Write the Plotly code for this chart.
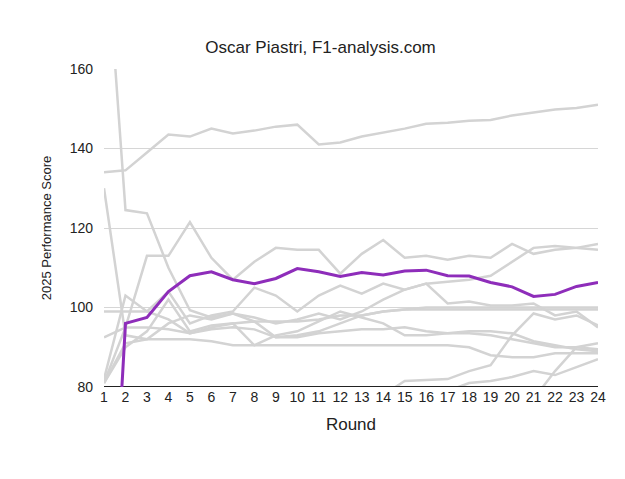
import plotly.graph_objects as go

rounds = list(range(1, 25))

piastri = [0, 96, 97.5, 104, 108, 109, 107, 106, 107.3, 109.8, 109, 107.8, 108.8, 108.2,
           109.2, 109.4, 108, 107.9, 106.3, 105.2, 102.8, 103.3, 105.3, 106.3]

others = [
    [134, 134.5, 139, 143.5, 143, 145, 143.8, 144.5, 145.5, 146, 141, 141.5, 143, 144, 145,
     146.2, 146.5, 147, 147.2, 148.3, 149, 149.8, 150.2, 151],
    [200, 124.5, 123.7, 110, 99.3, 97.5, 98.5, 96.5, 96.5, 96.5, 97, 98, 98, 99, 99.5,
     99.5, 99.5, 99.5, 99.5, 99.5, 99.5, 99.5, 99.5, 99.5],
    [130, 93, 92, 92, 92, 91.5, 90.5, 90.5, 90.5, 90.5, 90.5, 90.5, 90.5, 90.5, 90.5,
     90.5, 90.5, 90, 88, 87.5, 87.5, 88.5, 88.5, 88.5],
    [82, 103, 99, 97, 93.5, 95, 96, 96.5, 92.5, 93, 94, 96, 98, 99, 99.5,
     100, 100, 100, 100, 100, 100, 100, 100, 100],
    [81, 95, 113, 113, 121.5, 112.5, 107, 111.5, 115, 114.5, 114.5, 108.5, 113.5, 117, 112.5,
     113, 112, 113, 112.5, 116, 113.5, 114.5, 115, 116],
    [99, 99, 99, 104, 96, 98, 99, 105, 103, 99, 103, 105.5, 103.5, 106, 104.5,
     106, 106.5, 107, 108, 111.5, 115, 115.5, 115, 114.5],
    [92.5, 95, 95, 94.5, 93.5, 94.5, 95, 94.5, 92.5, 92.5, 93.5, 94, 94.5, 94.5, 95,
     94, 93.5, 93.5, 93, 92, 91, 90, 90, 89.5],
    [81, 90, 94, 102, 94, 95.5, 96, 90.5, 93, 94, 96.5, 99, 97.5, 96, 93,
     93, 93.5, 94, 94, 93.5, 91.5, 90.5, 89.5, 89],
    [81, 91, 92, 96, 98, 97, 98.5, 97.5, 96, 97, 98.5, 97, 99, 102, 104.5,
     106, 101, 101.5, 100.5, 100.5, 101, 98, 99, 95],
    [75, 78, 78, 78, 78, 78, 78, 78, 78, 78, 78, 78, 78, 78, 81.5,
     81.8, 82, 84, 85.5, 93, 98.5, 97, 98, 95.5],
    [75, 75, 75, 75, 75, 75, 75, 75, 75, 75, 75, 75, 75, 75, 75,
     76, 79, 81, 81.5, 82.5, 84, 83, 85, 87],
    [75, 75, 75, 75, 75, 75, 75, 75, 75, 75, 75, 75, 75, 75, 75,
     75, 75, 75, 75, 75, 77, 84, 90, 91],
]

fig = go.Figure()
for series in others:
    fig.add_trace(go.Scatter(x=rounds, y=series, mode="lines",
                             line=dict(color="#d3d3d3", width=2.5), showlegend=False))
fig.add_trace(go.Scatter(x=rounds, y=[80] * 24, mode="lines",
                         line=dict(color="#222222", width=2), showlegend=False))
fig.add_trace(go.Scatter(x=rounds, y=piastri, mode="lines",
                         line=dict(color="#8e2dba", width=3), showlegend=False))

fig.update_layout(
    width=625, height=479,
    paper_bgcolor="white", plot_bgcolor="white",
    margin=dict(l=96, r=35, t=61, b=100),
    title=dict(text="Oscar Piastri, F1-analysis.com", x=0.5, y=0.93,
               font=dict(size=17, color="#222222")),
    font=dict(family="Liberation Sans, Arial", size=14, color="#222222"),
    xaxis=dict(title=dict(text="Round", standoff=14), range=[1, 24], tickmode="linear", dtick=1,
               showgrid=False, zeroline=False, ticks=""),
    yaxis=dict(title=dict(text="2025 Performance Score", font=dict(size=13)),
               range=[80, 160], dtick=20, ticklabelstandoff=10,
               showgrid=True, gridcolor="#d6d6d6", zeroline=False),
)

fig.write_html("out.html")
